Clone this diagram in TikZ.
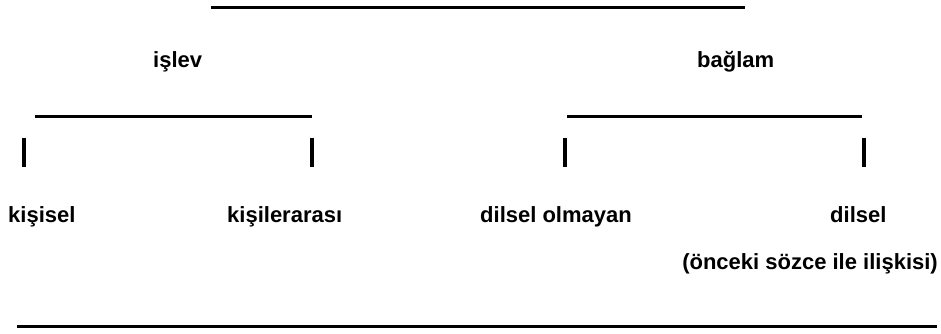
\documentclass[tikz,border=0pt]{standalone}
\usepackage{fontspec}
\setmainfont{Liberation Sans}
\begin{document}
\begin{tikzpicture}[x=1pt,y=-1pt,
  lbl/.style={font=\fontsize{22}{26}\selectfont\bfseries, inner sep=0pt, anchor=base west},
  rulebar/.style={line width=3pt},
  tickbar/.style={line width=4pt}]
\useasboundingbox (0,0) rectangle (941,333);
% top rule
\coordinate (topA) at (211,7);
\coordinate (topB) at (745,7);
\draw[rulebar] (topA) -- (topB);
% headings
\node[lbl] (islev) at (153,67) {işlev};
\node[lbl] (baglam) at (697,67) {bağlam};
% sub rules
\coordinate (lA) at (35,116);
\coordinate (lB) at (312,116);
\coordinate (rA) at (567,116);
\coordinate (rB) at (862,116);
\draw[rulebar] (lA) -- (lB);
\draw[rulebar] (rA) -- (rB);
% ticks
\coordinate (t1a) at (24,138);  \coordinate (t1b) at (24,167);
\coordinate (t2a) at (312,138); \coordinate (t2b) at (312,167);
\coordinate (t3a) at (565,138); \coordinate (t3b) at (565,167);
\coordinate (t4a) at (864,138); \coordinate (t4b) at (864,167);
\draw[tickbar] (t1a) -- (t1b);
\draw[tickbar] (t2a) -- (t2b);
\draw[tickbar] (t3a) -- (t3b);
\draw[tickbar] (t4a) -- (t4b);
% labels
\node[lbl] (kisisel) at (8,222) {kişisel};
\node[lbl] (kisiler) at (227,222) {kişilerarası};
\node[lbl] (dilselol) at (480,222) {dilsel olmayan};
\node[lbl] (dilsel) at (830,222) {dilsel};
\node[lbl, anchor=base east] (onceki) at (938,269) {(önceki sözce ile ilişkisi)};
% bottom rule
\coordinate (botA) at (17,326);
\coordinate (botB) at (937,326);
\draw[rulebar] (botA) -- (botB);
\end{tikzpicture}
\end{document}
